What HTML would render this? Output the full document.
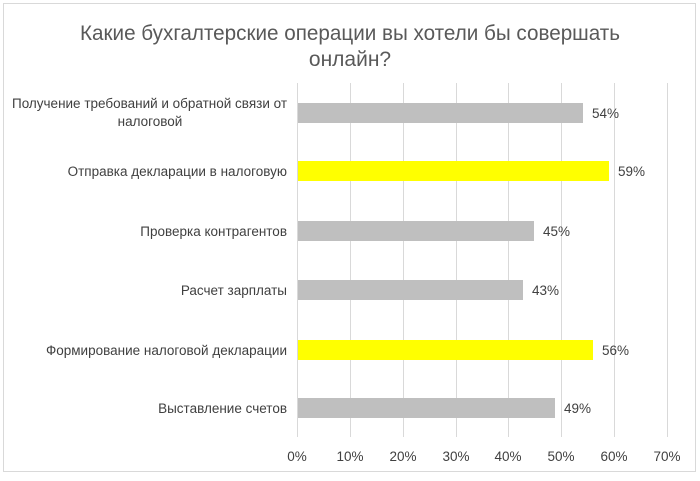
<!DOCTYPE html>
<html><head><meta charset="utf-8"><style>
body{margin:0;background:#fff;}
svg text{font-family:"Liberation Sans","DejaVu Sans",sans-serif;fill:#404040;}
</style></head><body>
<svg width="700" height="476" xmlns="http://www.w3.org/2000/svg">
<rect x="3.5" y="3.5" width="692" height="468" fill="#fff" stroke="#d9d9d9"/>
<text x="350" y="40" font-size="21" text-anchor="middle" style="fill:#595959" textLength="540" lengthAdjust="spacingAndGlyphs">Какие бухгалтерские операции вы хотели бы совершать</text>
<text x="350" y="66" font-size="21" text-anchor="middle" style="fill:#595959">онлайн?</text>
<g stroke="#d9d9d9" stroke-width="1">
<line x1="297.5" y1="83" x2="297.5" y2="437"/>
<line x1="350.5" y1="83" x2="350.5" y2="437"/>
<line x1="403.5" y1="83" x2="403.5" y2="437"/>
<line x1="456.5" y1="83" x2="456.5" y2="437"/>
<line x1="508.5" y1="83" x2="508.5" y2="437"/>
<line x1="561.5" y1="83" x2="561.5" y2="437"/>
<line x1="614.5" y1="83" x2="614.5" y2="437"/>
<line x1="667.5" y1="83" x2="667.5" y2="437"/>
</g>
<g>
<rect x="298" y="103" width="285" height="20" fill="#bfbfbf"/>
<rect x="298" y="161" width="311" height="20" fill="#ffff00"/>
<rect x="298" y="221" width="236" height="20" fill="#bfbfbf"/>
<rect x="298" y="280" width="225" height="20" fill="#bfbfbf"/>
<rect x="298" y="340" width="295" height="20" fill="#ffff00"/>
<rect x="298" y="398" width="257" height="20" fill="#bfbfbf"/>
</g>
<g font-size="13.5">
<text x="592" y="118">54%</text>
<text x="618" y="176">59%</text>
<text x="543" y="236">45%</text>
<text x="532" y="295">43%</text>
<text x="602" y="355">56%</text>
<text x="564" y="413">49%</text>
</g>
<g font-size="13.5" text-anchor="end">
<text x="287" y="108" textLength="275" lengthAdjust="spacingAndGlyphs">Получение требований и обратной связи от</text>
<text x="150" y="126" text-anchor="middle">налоговой</text>
<text x="287" y="176">Отправка декларации в налоговую</text>
<text x="287" y="236">Проверка контрагентов</text>
<text x="287" y="295">Расчет зарплаты</text>
<text x="287" y="355">Формирование налоговой декларации</text>
<text x="287" y="413">Выставление счетов</text>
</g>
<g font-size="13.5" text-anchor="middle">
<text x="297" y="461">0%</text>
<text x="350" y="461">10%</text>
<text x="403" y="461">20%</text>
<text x="456" y="461">30%</text>
<text x="508" y="461">40%</text>
<text x="561" y="461">50%</text>
<text x="614" y="461">60%</text>
<text x="667" y="461">70%</text>
</g>
</svg>
</body></html>
